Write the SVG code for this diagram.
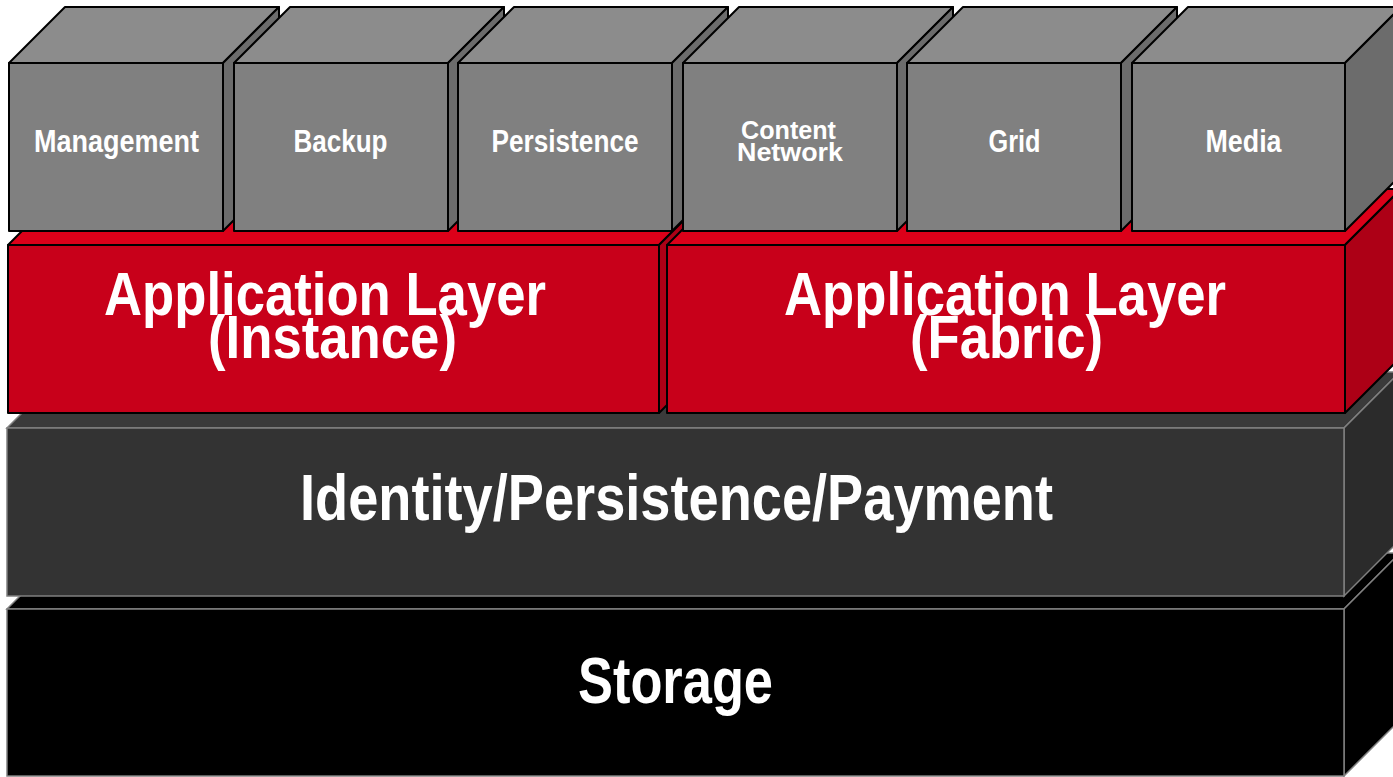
<svg xmlns="http://www.w3.org/2000/svg" width="1393" height="777" viewBox="0 0 1393 777">
<style>
.lbl{font-family:"Liberation Sans",Arial,sans-serif;font-weight:bold;fill:#ffffff;text-anchor:middle}
.cf{fill:#808080;stroke:#000;stroke-width:2;stroke-linejoin:round}
.ct{fill:#8c8c8c;stroke:#000;stroke-width:2;stroke-linejoin:round}
.cs{fill:#6c6c6c;stroke:#000;stroke-width:2;stroke-linejoin:round}
.rf{fill:#c8001a;stroke:#000;stroke-width:2;stroke-linejoin:round}
.rt{fill:#dc0019;stroke:#000;stroke-width:2;stroke-linejoin:round}
.rs{fill:#ad0016;stroke:#000;stroke-width:2;stroke-linejoin:round}
.df{fill:#333333;stroke:#808080;stroke-width:1.5}
.dt{fill:#3a3a3a;stroke:#808080;stroke-width:1.5}
.ds{fill:#2b2b2b;stroke:#808080;stroke-width:1.5}
.sf{fill:#000000;stroke:#808080;stroke-width:1.5}
.small{font-size:31px}
.big{font-size:61px}
.huge{font-size:64px}
</style>
<rect width="1393" height="777" fill="#ffffff"/>
<g id="storage">
<polygon class="sf" points="7,609 63,553 1400,553 1344,609"/>
<polygon class="sf" points="1344,609 1400,553 1400,720 1344,776"/>
<rect class="sf" x="7" y="609" width="1337" height="167"/>
<text class="lbl huge" x="675.5" y="703" textLength="195" lengthAdjust="spacingAndGlyphs">Storage</text>
</g>
<g id="identity">
<polygon class="dt" points="7,428 63,372 1400,372 1344,428"/>
<polygon class="ds" points="1344,428 1400,372 1400,540 1344,596"/>
<rect class="df" x="7" y="428" width="1337" height="168"/>
<text class="lbl huge" x="676.5" y="520" textLength="753" lengthAdjust="spacingAndGlyphs">Identity/Persistence/Payment</text>
</g>
<g id="app-instance">
<polygon class="rt" points="8,245 64,189 715,189 659,245"/>
<polygon class="rs" points="659,245 715,189 715,357 659,413"/>
<rect class="rf" x="8" y="245" width="651" height="168"/>
<text class="lbl big" x="325" y="315" textLength="442" lengthAdjust="spacingAndGlyphs">Application Layer</text>
<text class="lbl big" x="332.5" y="358" textLength="249" lengthAdjust="spacingAndGlyphs">(Instance)</text>
</g>
<g id="app-fabric">
<polygon class="rt" points="667,245 723,189 1401,189 1345,245"/>
<polygon class="rs" points="1345,245 1401,189 1401,357 1345,413"/>
<rect class="rf" x="667" y="245" width="678" height="168"/>
<text class="lbl big" x="1005" y="315" textLength="442" lengthAdjust="spacingAndGlyphs">Application Layer</text>
<text class="lbl big" x="1006.5" y="358" textLength="193" lengthAdjust="spacingAndGlyphs">(Fabric)</text>
</g>
<g id="cube-management">
<polygon class="ct" points="9,63 65,7 279,7 223,63"/>
<polygon class="cs" points="223,63 279,7 279,175 223,231"/>
<rect class="cf" x="9" y="63" width="214" height="168"/>
<text class="lbl small" x="116.5" y="152" textLength="165" lengthAdjust="spacingAndGlyphs">Management</text>
</g>
<g id="cube-backup">
<polygon class="ct" points="234,63 290,7 504,7 448,63"/>
<polygon class="cs" points="448,63 504,7 504,175 448,231"/>
<rect class="cf" x="234" y="63" width="214" height="168"/>
<text class="lbl small" x="340.5" y="152" textLength="94" lengthAdjust="spacingAndGlyphs">Backup</text>
</g>
<g id="cube-persistence">
<polygon class="ct" points="458,63 514,7 728,7 672,63"/>
<polygon class="cs" points="672,63 728,7 728,175 672,231"/>
<rect class="cf" x="458" y="63" width="214" height="168"/>
<text class="lbl small" x="565" y="152" textLength="147" lengthAdjust="spacingAndGlyphs">Persistence</text>
</g>
<g id="cube-content-network">
<polygon class="ct" points="683,63 739,7 953,7 897,63"/>
<polygon class="cs" points="897,63 953,7 953,175 897,231"/>
<rect class="cf" x="683" y="63" width="214" height="168"/>
<text class="lbl" font-size="26" x="788.5" y="139" textLength="95" lengthAdjust="spacingAndGlyphs">Content</text>
<text class="lbl" font-size="26" x="790" y="161" textLength="106" lengthAdjust="spacingAndGlyphs">Network</text>
</g>
<g id="cube-grid">
<polygon class="ct" points="907,63 963,7 1177,7 1121,63"/>
<polygon class="cs" points="1121,63 1177,7 1177,175 1121,231"/>
<rect class="cf" x="907" y="63" width="214" height="168"/>
<text class="lbl small" x="1014.5" y="152" textLength="52" lengthAdjust="spacingAndGlyphs">Grid</text>
</g>
<g id="cube-media">
<polygon class="ct" points="1132,63 1188,7 1401,7 1345,63"/>
<polygon class="cs" points="1345,63 1401,7 1401,175 1345,231"/>
<rect class="cf" x="1132" y="63" width="213" height="168"/>
<text class="lbl small" x="1243.5" y="152" textLength="76" lengthAdjust="spacingAndGlyphs">Media</text>
</g>
<g id="connectors"></g>
</svg>
